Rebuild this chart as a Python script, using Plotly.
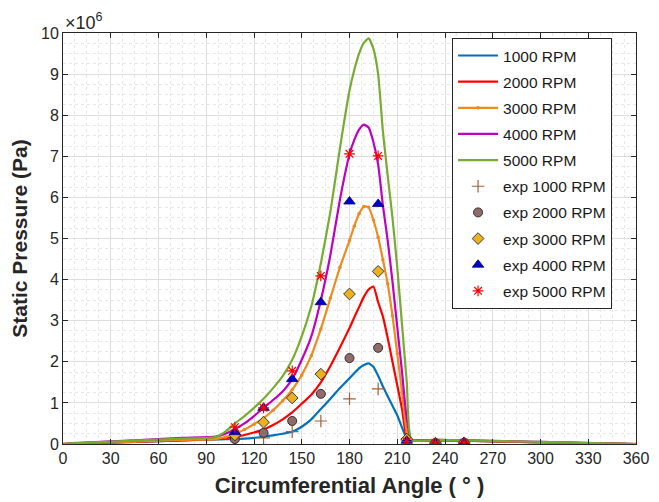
import plotly.graph_objects as go

# ---------------- data (pressure in units of 1e6 Pa) ----------------
sim_angle = [0, 8, 45, 75, 96, 102, 108, 114, 120, 126, 132, 138, 144, 150, 156,
             162, 168, 174, 180, 183, 186, 189, 192, 195, 198, 201, 204, 207,
             210, 213, 216, 219, 234, 252, 300, 360]

sim_1000 = [0, 0.01, 0.05, 0.09, 0.11, 0.115, 0.12, 0.13, 0.15, 0.18, 0.21, 0.25, 0.30,
            0.42, 0.60, 0.85, 1.10, 1.36, 1.60, 1.72, 1.84, 1.92, 1.96, 1.88, 1.66,
            1.40, 1.16, 0.93, 0.70, 0.40, 0.14, 0.09, 0.09, 0.08, 0.04, 0]
sim_2000 = [0, 0.01, 0.05, 0.09, 0.12, 0.14, 0.17, 0.22, 0.28, 0.35, 0.46, 0.60, 0.77,
            0.98, 1.20, 1.50, 1.90, 2.35, 2.82, 3.08, 3.33, 3.58, 3.76, 3.83, 3.45,
            3.10, 2.58, 2.00, 1.43, 0.85, 0.15, 0.10, 0.09, 0.08, 0.04, 0]
sim_3000 = [0, 0.02, 0.06, 0.10, 0.12, 0.17, 0.25, 0.35, 0.48, 0.63, 0.82, 1.05, 1.32,
            1.68, 2.15, 2.80, 3.55, 4.30, 4.95, 5.30, 5.60, 5.78, 5.76, 5.45, 5.03,
            4.48, 3.90, 3.12, 2.20, 1.26, 0.30, 0.10, 0.10, 0.09, 0.04, 0]
sim_4000 = [0, 0.02, 0.09, 0.15, 0.18, 0.25, 0.36, 0.50, 0.68, 0.88, 1.07, 1.28, 1.58,
            2.05, 2.62, 3.50, 4.60, 5.95, 7.05, 7.40, 7.65, 7.77, 7.70, 7.35, 6.80,
            5.80, 4.95, 3.95, 2.85, 1.75, 0.60, 0.10, 0.10, 0.09, 0.05, 0]
sim_5000 = [0, 0.02, 0.08, 0.13, 0.17, 0.30, 0.50, 0.68, 0.88, 1.10, 1.36, 1.65, 2.05,
            2.62, 3.35, 4.40, 5.65, 7.20, 8.60, 9.10, 9.50, 9.76, 9.87, 9.62, 9.00,
            7.60, 6.53, 5.50, 4.30, 2.90, 1.50, 0.10, 0.10, 0.09, 0.05, 0]

exp_angle = [108, 126, 144, 162, 180, 198, 216, 234, 252]
exp_1000 = [0.12, 0.15, 0.30, 0.56, 1.10, 1.34, 0.10, 0.02, 0.02]
exp_2000 = [0.12, 0.27, 0.56, 1.22, 2.09, 2.34, 0.10, 0.02, 0.03]
exp_3000 = [0.22, 0.53, 1.12, 1.70, 3.65, 4.20, 0.12, 0.02, 0.03]
exp_4000 = [0.29, 0.88, 1.58, 3.45, 5.90, 5.84, 0.08, 0.02, 0.03]
exp_5000 = [0.41, 0.88, 1.78, 4.09, 7.06, 7.01, 0.06, 0.02, 0.03]

scale = 1e6
x_ticks = list(range(0, 361, 30))
y_ticks = list(range(0, 11))
y_ticktext = [str(v) for v in y_ticks]

sim_names = ["1000 RPM", "2000 RPM", "3000 RPM", "4000 RPM", "5000 RPM"]
exp_names = ["exp 1000 RPM", "exp 2000 RPM", "exp 3000 RPM", "exp 4000 RPM", "exp 5000 RPM"]

# ---------------- figure ----------------
fig = go.Figure()

sim_series = [sim_1000, sim_2000, sim_3000, sim_4000, sim_5000]
sim_colors = ["#0072BD", "#FF0000", "#EE8A1E", "#C000C0", "#77AC30"]
for i, (name, vals, col) in enumerate(zip(sim_names, sim_series, sim_colors)):
    mode = "lines+markers" if name == "3000 RPM" else "lines"
    fig.add_trace(go.Scatter(
        x=sim_angle, y=[v * scale for v in vals], name=name, mode=mode,
        line=dict(color=col, width=2.2, shape="spline", smoothing=0.5),
        marker=dict(size=3.5, color=col),
        legendgroup="g%d" % i,
    ))

exp_series = [exp_1000, exp_2000, exp_3000, exp_4000, exp_5000]
exp_styles = [
    dict(symbol="cross-thin-open", size=9, color="#A0603A", line=dict(color="#A0603A", width=1.2)),
    dict(symbol="circle", size=9, color="#8E6C6C", line=dict(color="#3A2A2A", width=1)),
    dict(symbol="diamond", size=9, color="#EDB120", line=dict(color="#3A3A3A", width=1)),
    dict(symbol="triangle-up", size=10, color="#0000CD", line=dict(color="#00006A", width=0.8)),
    dict(symbol="asterisk-open", size=9, color="#FF0000", line=dict(color="#FF0000", width=1.2)),
]
for i, (name, vals, mk) in enumerate(zip(exp_names, exp_series, exp_styles)):
    fig.add_trace(go.Scatter(
        x=exp_angle, y=[v * scale for v in vals], name=name, mode="markers",
        marker=mk, legendgroup="e%d" % i,
    ))

axis_color = "#262626"
fig.update_layout(
    width=651, height=494,
    margin=dict(l=55, r=23, t=25, b=58, autoexpand=False),
    paper_bgcolor="white", plot_bgcolor="white",
    font=dict(family="Liberation Sans, Arial, sans-serif", color="#262626"),
    showlegend=True,
    legend=dict(
        x=0.679, y=0.988, xanchor="left", yanchor="top",
        bgcolor="white", bordercolor=axis_color, borderwidth=1,
        font=dict(size=15.5, color="#1a1a1a"),
        tracegroupgap=3,
        itemwidth=40,
    ),
    xaxis=dict(
        range=[0, 360], tickvals=x_ticks, ticks="inside", ticklen=5,
        tickcolor=axis_color, showline=True, linecolor=axis_color, linewidth=1,
        mirror="ticks", showgrid=True, gridcolor="#DEDEDE", gridwidth=1,
        zeroline=False, tickfont=dict(size=16, color="#262626"),
        minor=dict(dtick=7.5, showgrid=True, gridcolor="#E8E8E8", griddash="dot", ticks=""),
        title=dict(text="<b>Circumferential Angle ( ° )</b>", font=dict(size=22, color="#262626"), standoff=11),
    ),
    yaxis=dict(
        range=[0, 10 * scale], tickvals=[v * scale for v in y_ticks], ticktext=y_ticktext,
        ticks="inside", ticklen=5, tickcolor=axis_color, showline=True,
        linecolor=axis_color, linewidth=1, mirror="ticks", showgrid=True,
        gridcolor="#DEDEDE", gridwidth=1, zeroline=False,
        tickfont=dict(size=16, color="#262626"),
        minor=dict(dtick=0.25 * scale, showgrid=True, gridcolor="#E8E8E8", griddash="dot", ticks=""),
        title=dict(text="<b>Static Pressure (Pa)</b>", font=dict(size=21, color="#262626"), standoff=8),
    ),
    annotations=[dict(
        text="×10<sup>6</sup>", xref="paper", yref="paper", x=0.0, y=1.0,
        xanchor="left", yanchor="bottom", showarrow=False,
        font=dict(size=18, color="#262626"), xshift=0, yshift=-2,
    )],
)

fig.write_html("out.html")
